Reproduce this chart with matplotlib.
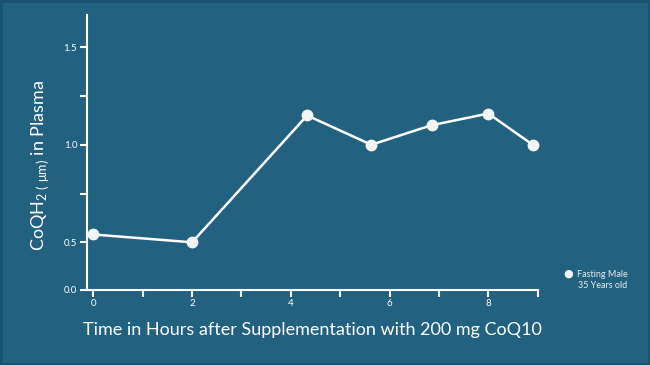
import matplotlib
matplotlib.use("Agg")
import matplotlib.pyplot as plt

# data
hours = [0, 2, 4.33, 5.63, 6.85, 8, 8.9]
coqh2 = [0.54, 0.50, 1.15, 1.00, 1.10, 1.16, 1.00]

y_major = [0.5, 1.0, 1.5]
y_minor = [0.75, 1.25]
x_ticks = list(range(10))
x_labels = ["0", "", "2", "", "4", "", "6", "", "8", ""]

# the original y axis is truncated: "0.0" sits right below 0.5 at half spacing
AXIS_FLOOR = 0.258
AXIS_TOP = 1.665

BG = "#22617f"
FG = "#ffffff"
FONT = ["Lato", "DejaVu Sans"]

plt.rcParams["font.family"] = FONT
plt.rcParams["mathtext.fontset"] = "custom"
plt.rcParams["mathtext.rm"] = "Lato"

fig = plt.figure(figsize=(6.5, 3.65), dpi=100, facecolor=BG)
fig.patch.set_edgecolor("#1a5371")
fig.patch.set_linewidth(2.5)
ax = fig.add_axes([0.1338, 0.2068, 0.6934, 0.7521])
ax.set_facecolor(BG)

ax.plot(hours, coqh2, color=FG, linewidth=1.8, marker="o", markersize=7.5,
        markerfacecolor="#f4f4f4", markeredgecolor="#f4f4f4", clip_on=False, zorder=3)

ax.set_xlim(-0.13, 9)
ax.set_ylim(AXIS_FLOOR, AXIS_TOP)

for s in ["top", "right"]:
    ax.spines[s].set_visible(False)
for s in ["left", "bottom"]:
    ax.spines[s].set_color(FG)
    ax.spines[s].set_linewidth(1.5)

ax.set_yticks([AXIS_FLOOR] + y_major)
ax.set_yticklabels(["0.0", "0.5", "1.0", "1.5"])
ax.set_yticks(y_minor, minor=True)
ax.set_xticks(x_ticks)
ax.set_xticklabels(x_labels)

ax.tick_params(axis="both", which="both", colors=FG, width=1.5, length=5,
               labelsize=7, pad=2)

ax.set_xlabel("Time in Hours after Supplementation with 200 mg CoQ10",
              color=FG, fontsize=13, labelpad=10)
fig.text(0.0615, 0.548, r"CoQH$_{\mathregular{2\ (\ μm)}}$ in Plasma", rotation=90,
         color=FG, fontsize=13, ha="center", va="center")

# legend
fig.text(0.8738, 0.249, "●", color="#f4f4f4", fontsize=8, ha="center", va="center",
         family=["DejaVu Sans"])
fig.text(0.887, 0.249, "Fasting Male", color="#e8eef2", fontsize=6.5, va="center")
fig.text(0.890, 0.219, "35 Years old", color="#e8eef2", fontsize=6.5, va="center")

fig.savefig("out.png", dpi=100, facecolor=BG, edgecolor=fig.patch.get_edgecolor())
